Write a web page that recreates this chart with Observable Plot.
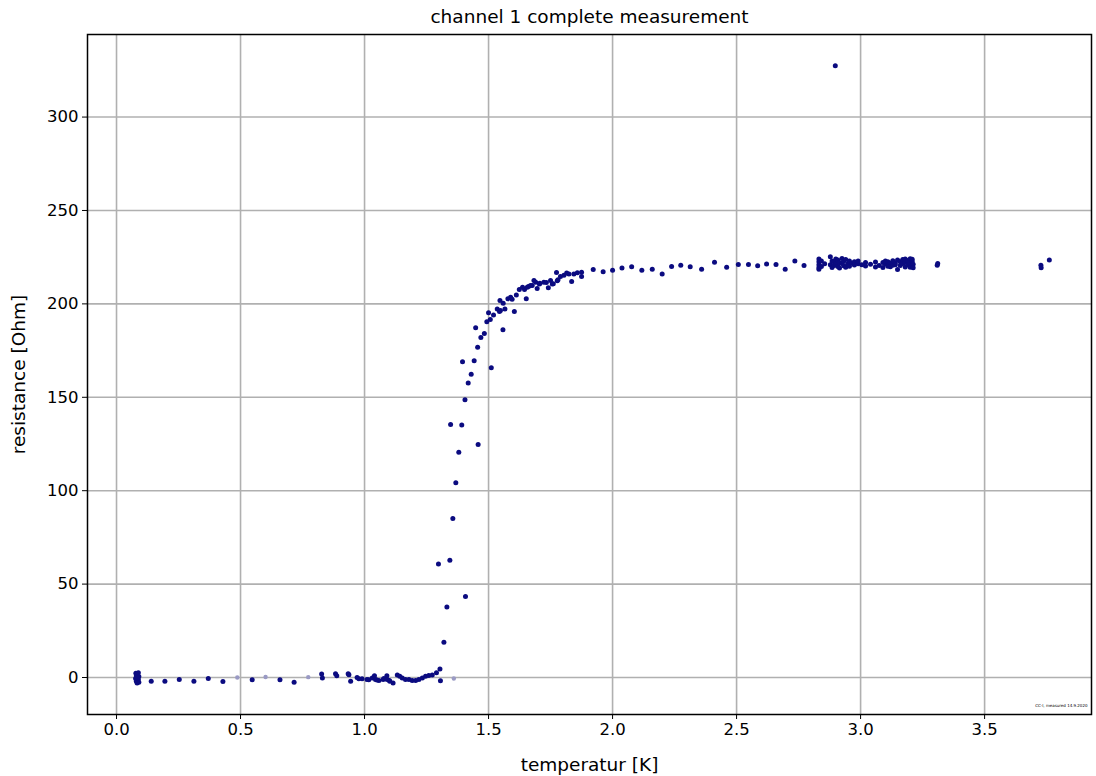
<!DOCTYPE html>
<html><head><meta charset="utf-8">
<script src="https://cdn.jsdelivr.net/npm/d3@7"></script>
<script src="https://cdn.jsdelivr.net/npm/@observablehq/plot@0.6"></script>
<style>body{margin:0;background:#fff} svg{font-family:"DejaVu Sans",sans-serif}</style>
</head><body><div id="chart"></div><script>
const titleText = "channel 1 complete measurement";
const xLabel = "temperatur [K]";
const yLabel = "resistance [Ohm]";
const noteText = "CC-I, measured 14.9.2020";
const xTicks = [0, 0.5, 1, 1.5, 2, 2.5, 3, 3.5];
const yTicks = [0, 50, 100, 150, 200, 250, 300];

const temperature = [
  0.078,0.088,0.08,0.09,0.077,0.088,0.08,0.09,0.083,0.085,
  0.14,0.195,0.253,0.312,0.37,0.429,0.547,0.659,0.716,0.827,0.83,0.883,0.888,0.934,0.937,0.944,0.97,0.977,0.99,1.01,
  1.017,1.031,1.04,1.044,1.05,1.058,1.075,1.078,1.09,1.091,1.1,1.102,1.115,1.132,1.142,1.152,1.165,1.179,1.192,1.206,
  1.219,1.233,1.246,1.259,1.273,1.29,1.304,1.306,
  1.32,1.332,1.407,1.298,1.344,1.356,1.368,1.38,1.347,1.392,1.458,1.405,1.418,1.43,1.395,1.442,1.511,1.456,1.469,1.483,
  1.448,1.558,1.493,1.507,1.5,1.52,1.535,1.544,1.546,1.566,1.559,1.578,1.589,1.595,1.612,1.604,1.652,1.624,1.637,1.645,
  1.661,1.676,1.69,1.696,1.705,1.723,1.741,1.757,1.777,1.835,1.548,1.656,1.669,1.683,1.707,1.733,1.75,1.761,1.774,1.78,
  1.79,1.804,1.815,1.824,1.844,1.858,1.875,1.875,
  1.922,1.962,2.0,2.038,2.077,2.118,2.16,2.2,2.238,2.275,2.313,2.359,2.411,2.46,2.507,2.548,2.585,2.621,2.659,2.696,2.735,2.772,
  2.832,2.832,2.832,2.832,2.832,2.842,2.842,2.855,2.878,2.878,2.885,2.885,2.893,2.893,2.9,2.9,2.908,2.908,2.915,2.915,
  2.925,2.925,2.932,2.932,2.94,2.94,2.948,2.955,2.955,2.965,2.975,2.975,2.99,2.99,3.005,3.02,3.02,3.04,3.06,3.06,
  3.075,3.09,3.09,3.1,3.1,3.11,3.11,3.12,3.12,3.13,3.13,3.14,3.14,3.149,3.149,3.16,3.16,3.17,3.17,3.18,
  3.18,3.18,3.19,3.19,3.2,3.2,3.2,3.208,3.208,3.208,3.212,3.212,
  3.309,3.311,3.727,3.728,3.761,2.898
];
const resistance = [
  2.3,2.5,1.0,0.5,-0.5,-1.0,-2.0,-2.5,-3.0,0.0,
  -2,-2,-1,-2,-0.5,-2.2,-1.2,-1.2,-2.6,1.9,-0.3,2,1,2,1.5,-2,0,-0.7,-0.6,-1,
  -1.2,-0.2,1,-1,-1.3,-1.6,-1,-0.5,0.9,-1,-1.6,-2,-2.9,1.4,0.7,-0.2,-1,-1,-1.6,-1.6,
  -1,-0.2,0.7,1.1,1.4,2.5,4.6,-1.8,
  18.9,37.8,43.4,60.7,62.8,85.1,104.2,120.6,135.4,135.2,124.7,148.7,157.6,162.4,169,169.5,165.8,176.8,182,184.2,
  187.2,186.1,190.4,191.6,195.2,194.1,197.3,195.9,201.8,197.3,200.4,202.7,203.6,202.5,204.7,195.9,202.7,207.7,208.9,207.7,
  209.3,209.9,211.6,208.2,210.7,211.6,208.6,210.7,212.4,212,196.5,208.9,209.8,212.5,211,211.4,212.5,210.8,216.8,212.9,
  214.7,215.3,216.5,216,216,216.6,217,214.7,
  218.4,217.2,218,219.2,219.9,218,218.5,216,220,220.7,219.9,218.6,222.3,219.6,221.1,221.1,220.4,221.4,221.1,218.6,222.9,220.6,
  224,222.5,221,219.5,218.5,223,220,221.5,225.2,221,223,219.5,222.5,220.5,224,221.5,223.5,220,222,219.2,
  224.3,221.6,220.4,222.8,223.8,219.6,221.4,222.9,220.2,221.8,222.6,220.8,221.5,223,220.9,222.2,220.3,221.2,219.8,222.4,
  220.6,222.1,219.5,221.3,223,220.2,222.5,221.8,219.9,223.1,220.7,222,221,218.4,223.5,220.5,222.6,221.6,223.8,219.8,
  222.3,224,220.9,223.2,219.6,221.7,224.2,220.4,222.8,223.9,221.2,219.3,
  220.7,221.6,220.7,219.4,223.5,327.5
];
const faintTemperature = [0.487, 0.601, 0.773, 1.36];
const faintResistance = [0.0, 0.3, 0.2, -0.5];

const main = temperature.map((t, i) => ({t, r: resistance[i]}));
const faint = faintTemperature.map((t, i) => ({t, r: faintResistance[i]}));

const chart = Plot.plot({
  width: 1096, height: 776,
  marginLeft: 87, marginRight: 5, marginTop: 34, marginBottom: 62,
  style: {fontFamily: "DejaVu Sans, sans-serif", fontSize: "16.5px", color: "#000", background: "#fff"},
  x: {domain: [-0.117, 3.931], label: null},
  y: {domain: [-19.8, 344.2], label: null},
  marks: [
    Plot.gridX(xTicks, {stroke: "#b0b0b0", strokeOpacity: 1, strokeWidth: 1.6}),
    Plot.gridY(yTicks, {stroke: "#b0b0b0", strokeOpacity: 1, strokeWidth: 1.6}),
    Plot.dot(faint, {x: "t", y: "r", r: 2.2, fill: "#9a9ac4", stroke: "none"}),
    Plot.dot(main, {x: "t", y: "r", r: 2.5, fill: "#0b0b80", stroke: "none"}),
    Plot.frame({stroke: "#000", strokeWidth: 1.5}),
    Plot.axisX(xTicks, {tickFormat: d => d.toFixed(1), tickSize: 5, tickPadding: 4, fontSize: 16.5, label: null}),
    Plot.axisX({label: xLabel, labelAnchor: "center", labelArrow: "none", labelOffset: 56, ticks: [], fontSize: 18.5}),
    Plot.axisY(yTicks, {tickSize: 5, tickPadding: 4, fontSize: 16.5, label: null}),
    Plot.axisY({label: yLabel, labelAnchor: "center", labelArrow: "none", labelOffset: 76, ticks: [], fontSize: 18.5}),
    Plot.text([titleText], {text: d => d, frameAnchor: "top", lineAnchor: "middle", dy: -17, fontSize: 18.5}),
    Plot.text([noteText], {text: d => d, frameAnchor: "bottom-right", dx: -4, dy: -8, fontSize: 4})
  ]
});
document.getElementById("chart").appendChild(chart);
</script></body></html>
